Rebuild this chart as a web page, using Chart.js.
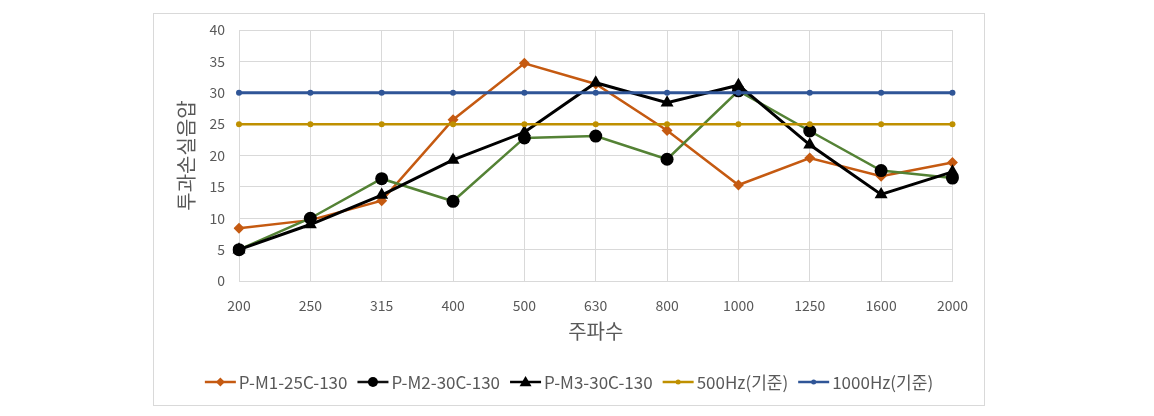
<!DOCTYPE html>
<html>
<head>
<meta charset="utf-8">
<script src="https://cdn.jsdelivr.net/npm/chart.js@4/dist/chart.umd.min.js"></script>
<style>
  body { margin: 0; background: #fff; }
  #frame { position: absolute; left: 153px; top: 13px; width: 830px; height: 391px; border: 1px solid #d9d9d9; }
</style>
</head>
<body>
<div id="frame"><canvas id="myChart" width="830" height="391"></canvas></div>
<script>
// 주파수 (Hz)
const freqs = ['200', '250', '315', '400', '500', '630', '800', '1000', '1250', '1600', '2000'];
const pm1 = [8.4, 9.7, 12.8, 25.7, 34.7, 31.4, 24.0, 15.3, 19.6, 16.7, 18.9];
const pm2 = [5.0, 10.0, 16.3, 12.7, 22.8, 23.1, 19.4, 30.3, 23.9, 17.6, 16.4];
const pm3 = [5.0, 9.0, 13.7, 19.3, 23.7, 31.6, 28.4, 31.2, 21.7, 13.8, 17.4];
const ref500 = [25, 25, 25, 25, 25, 25, 25, 25, 25, 25, 25];
const ref1000 = [30, 30, 30, 30, 30, 30, 30, 30, 30, 30, 30];
const names = ['P-M1-25C-130', 'P-M2-30C-130', 'P-M3-30C-130', '500Hz(기준)', '1000Hz(기준)'];

const FONT = "'Noto Sans CJK KR', 'Noto Sans', sans-serif";
const tickColor = '#595959';

// legend drawn by hand so the line runs through the marker like Excel
const excelLegend = {
  id: 'excelLegend',
  afterDraw(chart) {
    const c = chart.ctx;
    const sets = chart.data.datasets;
    c.save();
    c.font = '17px ' + FONT;
    c.textBaseline = 'middle';
    const lineW = 31, gap = 3, space = 10;
    let total = 0;
    const widths = sets.map(d => c.measureText(d.label).width);
    widths.forEach(w => total += lineW + gap + w);
    total += space * (sets.length - 1);
    let x = (chart.width - total) / 2;
    const y = 368;
    sets.forEach((d, i) => {
      c.strokeStyle = d.legendLine || d.borderColor;
      c.lineWidth = 2.5;
      c.beginPath(); c.moveTo(x, y); c.lineTo(x + lineW, y); c.stroke();
      c.fillStyle = d.pointBackgroundColor;
      const mx = x + lineW / 2, r = d.legendR;
      c.beginPath();
      if (d.pointStyle === 'rectRot') {
        c.moveTo(mx, y - r); c.lineTo(mx + r, y); c.lineTo(mx, y + r); c.lineTo(mx - r, y);
      } else if (d.pointStyle === 'triangle') {
        c.moveTo(mx, y - r); c.lineTo(mx + r, y + r * 0.7); c.lineTo(mx - r, y + r * 0.7);
      } else {
        c.arc(mx, y, r, 0, Math.PI * 2);
      }
      c.closePath(); c.fill();
      c.fillStyle = tickColor;
      c.fillText(d.label, x + lineW + gap, y + 1);
      x += lineW + gap + widths[i] + space;
    });
    c.restore();
  }
};

var ctx = document.getElementById('myChart');
var chart = new Chart(ctx, {
  type: 'line',
  data: {
    labels: freqs,
    datasets: [
      { label: names[0], data: pm1, borderColor: '#C55A11', borderWidth: 2.5,
        pointStyle: 'rectRot', pointRadius: 5.5, pointBackgroundColor: '#C55A11', pointBorderWidth: 0,
        legendR: 4.5, order: 4 },
      { label: names[1], data: pm2, borderColor: '#548235', borderWidth: 2.5, legendLine: '#111',
        pointStyle: 'circle', pointRadius: 6.5, pointBackgroundColor: '#000', pointBorderWidth: 0,
        legendR: 5, order: 3 },
      { label: names[2], data: pm3, borderColor: '#000', borderWidth: 3,
        pointStyle: 'triangle', pointRadius: 7.5, pointBackgroundColor: '#000', pointBorderWidth: 0,
        legendR: 6, order: 2 },
      { label: names[3], data: ref500, borderColor: '#BF9000', borderWidth: 2.5,
        pointStyle: 'circle', pointRadius: 3, pointBackgroundColor: '#BF9000', pointBorderWidth: 0,
        legendR: 2.5, order: 1 },
      { label: names[4], data: ref1000, borderColor: '#2F5597', borderWidth: 3,
        pointStyle: 'circle', pointRadius: 3, pointBackgroundColor: '#2F5597', pointBorderWidth: 0,
        legendR: 2.5, order: 0 }
    ]
  },
  options: {
    responsive: false,
    animation: false,
    devicePixelRatio: 1,
    layout: { padding: { top: 16, right: 28, bottom: 62, left: 0 } },
    plugins: { legend: { display: false }, tooltip: { enabled: false } },
    elements: { line: { tension: 0 } },
    scales: {
      x: {
        offset: false,
        grid: { color: '#d9d9d9', drawTicks: false },
        border: { color: '#d9d9d9' },
        ticks: { color: tickColor, font: { family: FONT, size: 14 }, padding: 16, maxRotation: 0 },
        title: { display: true, text: '주파수', color: tickColor, font: { family: FONT, size: 20 }, padding: 0 },
        afterFit(s) { s.height = 62; }
      },
      y: {
        min: 0, max: 40,
        grid: { color: '#d9d9d9', drawTicks: true, tickLength: 14, tickColor: 'rgba(0,0,0,0)' },
        border: { display: false },
        ticks: { stepSize: 5, color: tickColor, font: { family: FONT, size: 14 }, padding: 0 },
        title: { display: true, text: '투과손실음압', color: tickColor, font: { family: FONT, size: 20 }, padding: { top: 20, bottom: 0 } },
        afterFit(s) { s.width = 85; }
      }
    }
  },
  plugins: [excelLegend]
});
</script>
</body>
</html>
